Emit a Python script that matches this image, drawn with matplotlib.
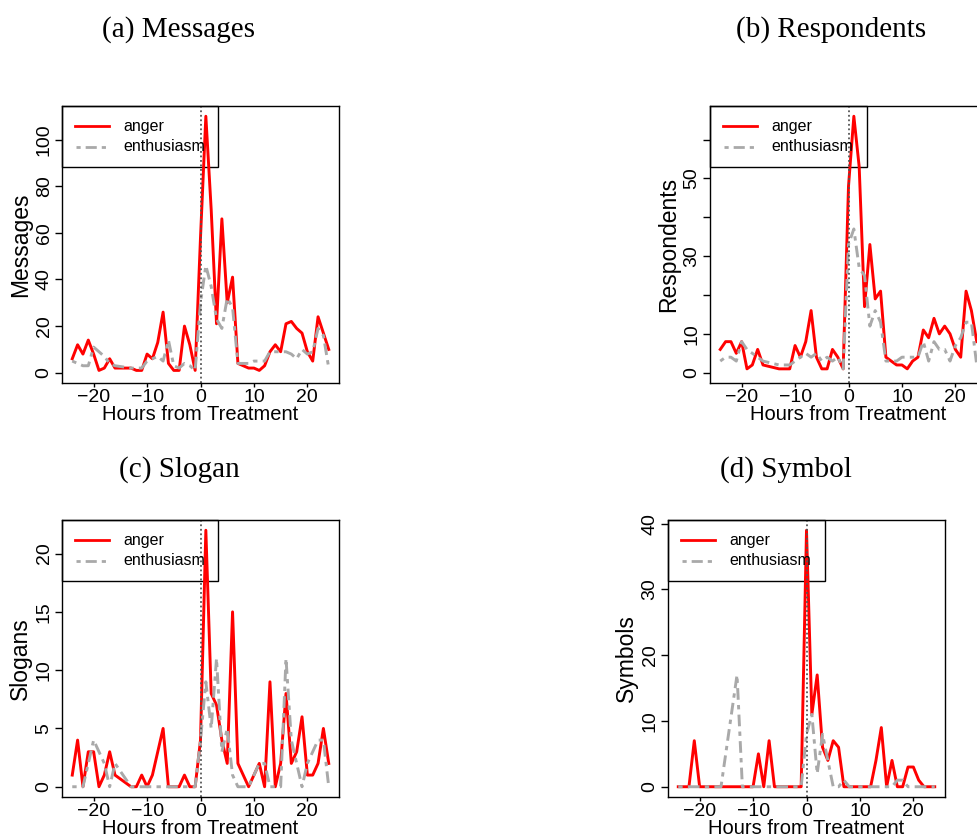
"""
Four-panel hourly counts around the treatment hour (anger vs enthusiasm).
Writes out.png.
"""

import matplotlib
matplotlib.use("Agg")
import matplotlib.pyplot as plt
from matplotlib.patches import Rectangle

# Hours -15 and -14 are not in the data
HOURS = [-24, -23, -22, -21, -20, -19, -18, -17, -16, -13, -12, -11, -10, -9, -8, -7,
         -6, -5, -4, -3, -2, -1, 0, 1, 2, 3, 4, 5, 6, 7, 8, 9, 10, 11, 12, 13, 14, 15,
         16, 17, 18, 19, 20, 21, 22, 23, 24]

MSG_ANGER = [6, 12, 8, 14, 8, 1, 2, 6, 2, 2, 1, 1, 8, 6, 13, 26,
             4, 1, 1, 20, 12, 1, 58, 110, 70, 21, 66, 30, 41, 4, 3, 2, 2, 1, 3, 9, 12, 9,
             21, 22, 19, 17, 9, 5, 24, 17, 10]
MSG_ENTH = [5, 4, 3, 3, 11, 9, 7, 4, 3, 2, 2, 2, 5, 6, 7, 5,
            14, 3, 2, 4, 3, 1, 30, 46, 37, 23, 19, 32, 28, 4, 4, 4, 5, 5, 5, 9, 9, 9,
            9, 8, 6, 10, 8, 9, 19, 16, 2]

RESP_ANGER = [6, 8, 8, 5, 8, 1, 2, 6, 2, 1, 1, 1, 7, 4, 8, 16,
              4, 1, 1, 6, 4, 1, 48, 66, 53, 17, 33, 19, 21, 4, 3, 2, 2, 1, 3, 4, 11, 9,
              14, 10, 12, 10, 6, 4, 21, 16, 8]
RESP_ENTH = [3, 4, 4, 3, 8, 6, 5, 4, 3, 2, 2, 2, 3, 4, 5, 4,
             5, 3, 4, 3, 4, 1, 33, 37, 27, 25, 12, 16, 13, 3, 3, 3, 4, 4, 4, 4, 8, 3,
             8, 6, 6, 3, 7, 9, 13, 13, 2]

SLOGAN_ANGER = [1, 4, 0, 3, 3, 0, 1, 3, 1, 0, 0, 1, 0, 1, 3, 5,
                0, 0, 0, 1, 0, 0, 4, 22, 8, 7, 4, 2, 15, 2, 1, 0, 1, 2, 0, 9, 0, 2,
                8, 2, 3, 6, 1, 1, 2, 5, 2]
SLOGAN_ENTH = [0, 0, 0, 2, 4, 3, 2, 0, 2, 0, 0, 0, 0, 0, 0, 0,
               0, 0, 0, 0, 0, 0, 4, 9, 5, 11, 3, 5, 1, 0, 0, 0, 1, 2, 2, 0, 0, 0,
               11, 4, 2, 0, 2, 3, 4, 4, 0]

SYMBOL_ANGER = [0, 0, 0, 7, 0, 0, 0, 0, 0, 0, 0, 0, 0, 5, 0, 7,
                0, 0, 0, 0, 0, 0, 39, 11, 17, 6, 4, 7, 6, 0, 0, 0, 0, 0, 0, 4, 9, 0,
                4, 0, 0, 3, 3, 1, 0, 0, 0]
SYMBOL_ENTH = [0, 0, 0, 0, 0, 0, 0, 0, 0, 17, 0, 0, 0, 0, 0, 0,
               0, 0, 0, 0, 0, 0, 8, 11, 2, 8, 4, 0, 0, 1, 0, 0, 0, 0, 0, 0, 0, 0,
               0, 1, 1, 0, 0, 0, 0, 0, 0]

RED = "#FF0000"
GRAY = "#A9A9A9"
DOTDASH = (0, (1.5, 1.8, 4, 1.8))

plt.rcParams["font.family"] = ["Liberation Sans", "DejaVu Sans"]


def draw_legend(ax, width):
    # R-style legend: no fill, box glued to the top-left corner
    ax.add_patch(Rectangle((0, 0.78), width, 0.22, transform=ax.transAxes,
                           fill=False, edgecolor="black", lw=1.0, clip_on=False))
    ax.plot([0.048, 0.168], [0.926, 0.926], transform=ax.transAxes, color=RED, lw=2.0)
    ax.plot([0.05, 0.168], [0.852, 0.852], transform=ax.transAxes, color=GRAY,
            lw=2.0, linestyle=DOTDASH)
    ax.text(0.222, 0.926, "anger", transform=ax.transAxes, va="center", fontsize=11.5)
    ax.text(0.222, 0.852, "enthusiasm", transform=ax.transAxes, va="center", fontsize=11.5)


def draw_panel(ax, anger, enthusiasm, ylabel, yticks, ylabels, legend_w=0.563):
    ax.plot(HOURS, anger, color=RED, lw=2.1)
    ax.plot(HOURS, enthusiasm, color=GRAY, lw=2.1, linestyle=DOTDASH)
    ax.axvline(0, color="#555555", lw=1.3, linestyle=(0, (1, 1.5)))

    # same 4% padding R uses
    xpad = 0.04 * (max(HOURS) - min(HOURS))
    ax.set_xlim(min(HOURS) - xpad, max(HOURS) + xpad)
    top = max(max(anger), max(enthusiasm))
    ax.set_ylim(-0.04 * top, 1.04 * top)

    ax.set_xticks([-20, -10, 0, 10, 20])
    ax.set_yticks(yticks)
    ax.set_yticklabels(ylabels)
    ax.tick_params(axis="both", direction="out", width=1.0)
    ax.tick_params(axis="x", labelsize=14, length=2.6, pad=1.5)
    ax.tick_params(axis="y", labelsize=14, length=4.7, pad=2, labelrotation=90)
    for lbl in ax.get_yticklabels():
        lbl.set_va("center")

    ax.set_xlabel("Hours from Treatment", fontsize=14.5, va="center")
    ax.xaxis.set_label_coords(0.5, -0.115)
    ax.set_ylabel(ylabel, fontsize=16.5, va="center")
    ax.yaxis.set_label_coords(-0.15, 0.5)

    for sp in ax.spines.values():
        sp.set_linewidth(1.0)
        sp.set_color("black")

    draw_legend(ax, legend_w)


def main():
    fig = plt.figure(figsize=(9.77, 8.38), dpi=100)
    W, H = 977.0, 838.0
    size = 277.0

    def box(left, top):
        return [left / W, (H - top - size) / H, size / W, size / H]

    ax_a = fig.add_axes(box(62, 106))
    ax_b = fig.add_axes(box(710, 106))
    ax_c = fig.add_axes(box(62, 520))
    ax_d = fig.add_axes(box(668, 520))

    draw_panel(ax_a, MSG_ANGER, MSG_ENTH, "Messages",
               [0, 20, 40, 60, 80, 100], ["0", "20", "40", "60", "80", "100"])
    draw_panel(ax_b, RESP_ANGER, RESP_ENTH, "Respondents",
               [0, 10, 20, 30, 40, 50, 60], ["0", "10", "", "30", "", "50", ""],
               legend_w=0.567)
    draw_panel(ax_c, SLOGAN_ANGER, SLOGAN_ENTH, "Slogans",
               [0, 5, 10, 15, 20], ["0", "5", "10", "15", "20"])
    draw_panel(ax_d, SYMBOL_ANGER, SYMBOL_ENTH, "Symbols",
               [0, 10, 20, 30, 40], ["0", "10", "20", "30", "40"], legend_w=0.568)

    # sub-figure captions
    cap = dict(family=["Liberation Serif", "DejaVu Serif"], fontsize=21,
               ha="center", va="center")
    fig.text(179 / W, 1 - 30 / H, "(a) Messages", **cap)
    fig.text(831 / W, 1 - 30 / H, "(b) Respondents", **cap)
    fig.text(179 / W, 1 - 470 / H, "(c) Slogan", **cap)
    fig.text(786 / W, 1 - 470 / H, "(d) Symbol", **cap)

    fig.savefig("out.png", dpi=100)
    plt.close(fig)


if __name__ == "__main__":
    main()
